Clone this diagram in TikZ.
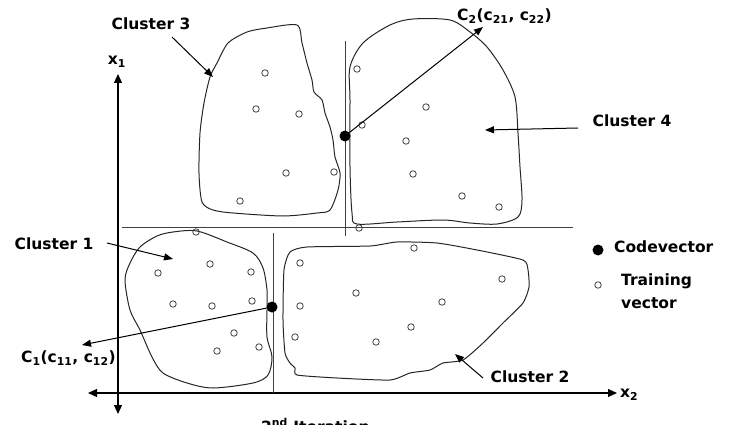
\documentclass[tikz,border=0pt]{standalone}
\usepackage{fontspec}
\setmainfont{DejaVu Sans}
\usetikzlibrary{arrows.meta}
\begin{document}
\begin{tikzpicture}[x=1pt,y=-1pt,
  lbl/.style={font=\fontsize{15.5}{18}\selectfont\bfseries, inner sep=0pt, text=black},
  tv/.style={circle, draw=black!75, line width=0.8pt, inner sep=0pt, minimum size=6.5pt},
  cv/.style={circle, fill=black, inner sep=0pt, minimum size=11pt},
  blob/.style={draw=black!85, line width=1pt},
  sep/.style={draw=black!75, line width=1pt},
  axis/.style={draw=black, line width=1.2pt, {Triangle[length=9pt,width=8pt]}-{Triangle[length=9pt,width=8pt]}},
  ptr/.style={draw=black, line width=1pt, -{Triangle[length=9pt,width=7pt]}}]
\useasboundingbox (0,0) rectangle (736,425);

% axes
\coordinate (ax1t) at (118,74);
\coordinate (ax1b) at (118,414);
\coordinate (ax2l) at (88,393);
\coordinate (ax2r) at (617,393);
\draw[axis] (ax1t) -- (ax1b);
\draw[axis] (ax2l) -- (ax2r);
\node[lbl, anchor=south] (x1) at (117,68) {x\textsubscript{1}};
\node[lbl, anchor=west] (x2) at (620,395) {x\textsubscript{2}};

% separator lines
\coordinate (hs1) at (122,227);
\coordinate (hs2) at (573,227);
\coordinate (vu1) at (345,41);
\coordinate (vu2) at (345,236);
\coordinate (vl1) at (273,233);
\coordinate (vl2) at (273,393);
\draw[sep] (hs1) -- (hs2);
\draw[sep] (vu1) -- (vu2);
\draw[sep] (vl1) -- (vl2);

% cluster 3
\draw[blob] plot[smooth cycle, tension=0.45] coordinates {
 (228,43) (247,32) (267,28) (297,25) (302,43) (307,63) (312,80) (314,92) (322,100)
 (325,113) (330,127) (333,140) (335,157) (340,173) (338,190) (330,210) (317,213)
 (283,216) (233,213) (213,210) (202,202) (199,173) (200,133) (204,103) (210,77) (217,63)};
% cluster 4
\draw[blob] plot[smooth cycle, tension=0.5] coordinates {
 (350,67) (363,43) (390,25) (413,19) (450,20) (470,32) (487,47) (503,70) (515,97)
 (518,133) (520,167) (522,200) (518,217) (497,224) (470,223) (443,220) (397,222)
 (357,224) (352,213) (350,167) (350,100)};
% cluster 1
\draw[blob] plot[smooth cycle, tension=0.5] coordinates {
 (173,232) (197,231) (227,242) (253,253) (263,268) (267,290) (267,310) (267,337)
 (272,357) (268,375) (253,383) (213,388) (187,383) (163,373) (152,357) (140,330)
 (130,310) (125,280) (130,263) (140,247) (157,236)};
% cluster 2
\draw[blob] plot[smooth cycle, tension=0.35] coordinates {
 (290,252) (307,247) (370,246) (397,242) (437,243) (477,250) (523,260) (528,270)
 (529,287) (523,303) (503,323) (483,343) (463,360) (443,363) (430,370) (410,373)
 (390,380) (337,378) (297,375) (295,368) (290,363) (285,353) (283,320) (284,270)};

% training vectors
\foreach \p [count=\i] in {(265,73),(256,109),(299,114),(286,173),(334,172),(240,201)}
  \node[tv] (ta\i) at \p {};
\foreach \p [count=\i] in {(357,69),(362,125),(426,107),(406,141),(413,174),(462,196),(499,207),(359,228)}
  \node[tv] (tb\i) at \p {};
\foreach \p [count=\i] in {(196,232),(210,264),(158,273),(251,272),(173,304),(212,306),(252,301),(234,333),(217,351),(259,347)}
  \node[tv] (tc\i) at \p {};
\foreach \p [count=\i] in {(414,248),(300,263),(502,279),(356,293),(442,302),(300,306),(411,327),(295,337),(376,342)}
  \node[tv] (td\i) at \p {};

% codevectors
\node[cv] (cvu) at (345,136) {};
\node[cv] (cvl) at (272,307) {};

% codevector labels and pointers
\node[lbl, anchor=west] (c2) at (457,16) {C\textsubscript{2}(c\textsubscript{21}, c\textsubscript{22})};
\coordinate (c2tip) at (483,27);
\draw[ptr] (cvu) -- (c2tip);
\node[lbl, anchor=west] (c1) at (21,358) {C\textsubscript{1}(c\textsubscript{11}, c\textsubscript{12})};
\coordinate (c1tip) at (82,345);
\draw[ptr] (cvl) -- (c1tip);

% cluster labels
\node[lbl] (l3) at (151,24) {Cluster 3};
\coordinate (l3s) at (172,37);
\coordinate (l3t) at (213,77);
\draw[ptr] (l3s) -- (l3t);

\node[lbl] (l4) at (632,121) {Cluster 4};
\coordinate (l4s) at (578,128);
\coordinate (l4t) at (485,130);
\draw[ptr] (l4s) -- (l4t);

\node[lbl] (l1) at (54,244) {Cluster 1};
\coordinate (l1s) at (107,243);
\coordinate (l1t) at (173,259);
\draw[ptr] (l1s) -- (l1t);

\node[lbl] (l2) at (530,377) {Cluster 2};
\coordinate (l2s) at (483,378);
\coordinate (l2t) at (455,354);
\draw[ptr] (l2s) -- (l2t);

% legend
\node[cv] (lgc) at (598,250) {};
\node[lbl, anchor=west] (lgct) at (614,247) {Codevector};
\node[tv] (lgt) at (598,285) {};
\node[lbl, anchor=west, align=left, font=\fontsize{15.5}{23}\selectfont\bfseries] (lgtt) at (621,291) {Training\\vector};

% caption (cut off at bottom edge, as in the reference)
\node[lbl, anchor=base west] (cap) at (261,432) {2\textsuperscript{nd} Iteration};
\end{tikzpicture}
\end{document}
